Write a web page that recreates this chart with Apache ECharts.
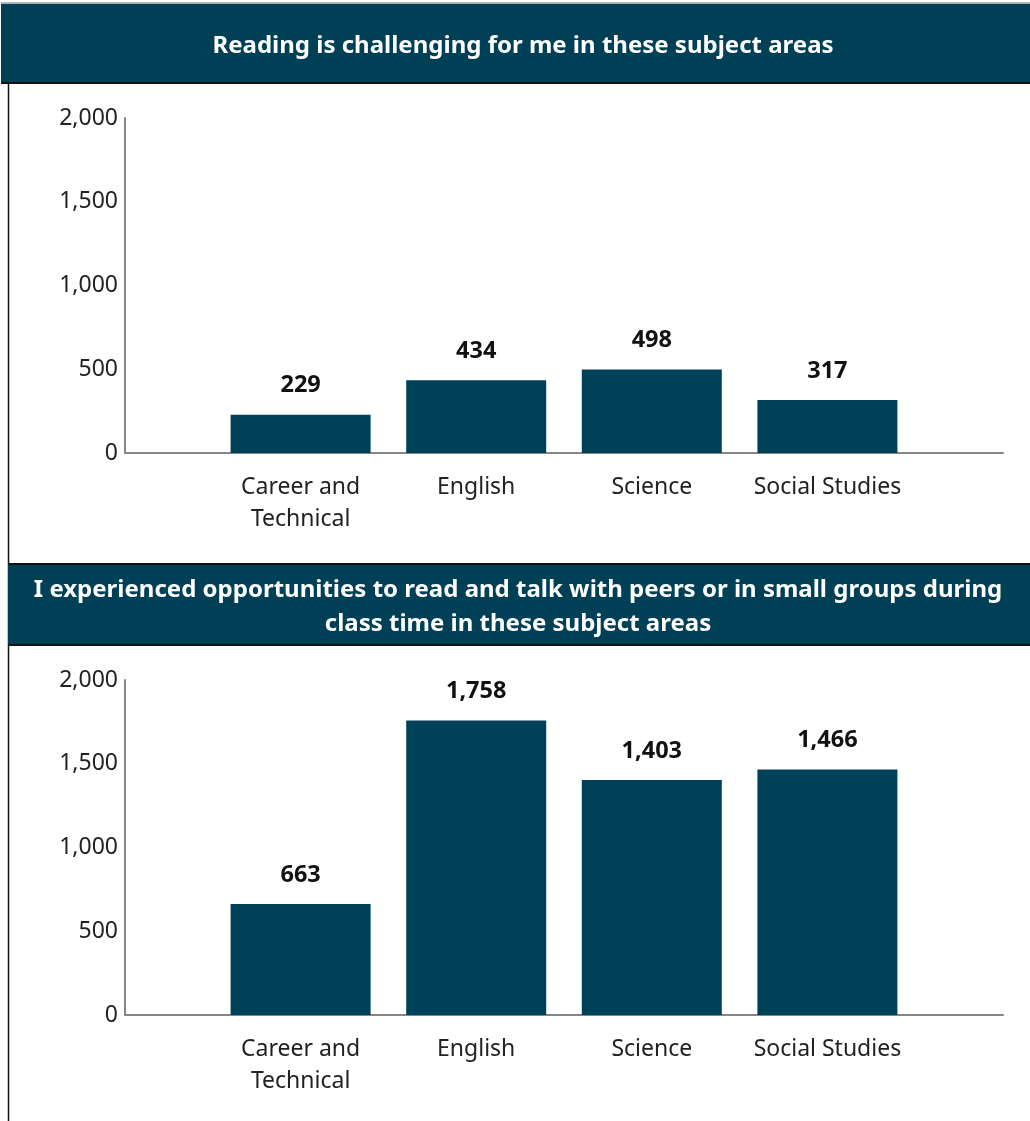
<!DOCTYPE html>
<html>
<head>
<meta charset="utf-8">
<script src="https://cdn.jsdelivr.net/npm/echarts@6/dist/echarts.min.js"></script>
<style>
  html, body { margin: 0; padding: 0; background: #ffffff; }
  #chart { width: 1030px; height: 1121px; }
</style>
</head>
<body>
<div id="chart"></div>
<script>
// Subject areas (blank slots at both ends keep the bars off the axis edges)
const categories = ['', 'Career and\nTechnical', 'English', 'Science', 'Social Studies', ''];
const challengingCounts = [null, 229, 434, 498, 317, null];
const opportunityCounts = [null, 663, 1758, 1403, 1466, null];
const yTicks = [0, 500, 1000, 1500, 2000];

const titleTop = 'Reading is challenging for me in these subject areas';
const titleBottom = 'I experienced opportunities to read and talk with peers or in small groups during\nclass time in these subject areas';

const FONT = 'Noto Sans';
const HEADER = '#004057';
const BAR = '#00415a';
const AXIS = '#868686';

const fmt = v => Number(v).toLocaleString('en-US');

function xAxisFor(gridIndex) {
  return {
    type: 'category', gridIndex, data: categories, boundaryGap: false,
    axisLine: { lineStyle: { color: AXIS, width: 2 } },
    axisTick: { show: false },
    axisLabel: { color: '#222', fontFamily: FONT, fontSize: 23, lineHeight: 32, margin: 18, interval: 0 }
  };
}
function yAxisFor(gridIndex) {
  return {
    type: 'value', gridIndex, min: yTicks[0], max: yTicks[yTicks.length - 1], interval: 500,
    axisLine: { show: true, lineStyle: { color: AXIS, width: 2 } },
    axisTick: { show: false },
    splitLine: { show: false },
    axisLabel: { color: '#222', fontFamily: FONT, fontSize: 23, margin: 7, formatter: fmt }
  };
}
function barSeries(data, idx) {
  return {
    type: 'bar', xAxisIndex: idx, yAxisIndex: idx, data, barWidth: 140,
    itemStyle: { color: BAR },
    label: {
      show: true, position: 'top', distance: 17, color: '#111',
      fontFamily: FONT, fontSize: 23.5, fontWeight: 'bold',
      formatter: p => fmt(p.value)
    }
  };
}

const chart = echarts.init(document.getElementById('chart'), null, { renderer: 'canvas' });
chart.setOption({
  animation: false,
  backgroundColor: '#ffffff',
  graphic: [
    // outer frame lines
    { type: 'line', shape: { x1: 1, y1: 3, x2: 1030, y2: 3 }, style: { stroke: '#999', lineWidth: 1.5 } },
    { type: 'line', shape: { x1: 8.5, y1: 83, x2: 8.5, y2: 1121 }, style: { stroke: '#111', lineWidth: 1.5 } },
    // header bands
    { type: 'rect', shape: { x: 1, y: 4, width: 1029, height: 78 }, style: { fill: HEADER } },
    { type: 'rect', shape: { x: 1, y: 82, width: 1029, height: 2 }, style: { fill: '#111' } },
    { type: 'rect', shape: { x: 8, y: 563, width: 1022, height: 2 }, style: { fill: '#111' } },
    { type: 'rect', shape: { x: 8, y: 565, width: 1022, height: 79 }, style: { fill: HEADER } },
    { type: 'rect', shape: { x: 8, y: 644, width: 1022, height: 2 }, style: { fill: '#111' } }
  ],
  title: [
    { text: titleTop, left: 518, top: 24, textAlign: 'center',
      textStyle: { color: '#fff', fontFamily: FONT, fontSize: 24, fontWeight: 'bold', lineHeight: 34 } },
    { text: titleBottom, left: 513, top: 568, textAlign: 'center',
      textStyle: { color: '#fff', fontFamily: FONT, fontSize: 24, fontWeight: 'bold', lineHeight: 34, align: 'center' } }
  ],
  grid: [
    { left: 125, top: 118, width: 878, height: 335 },
    { left: 125, top: 680, width: 878, height: 335 }
  ],
  xAxis: [xAxisFor(0), xAxisFor(1)],
  yAxis: [yAxisFor(0), yAxisFor(1)],
  series: [barSeries(challengingCounts, 0), barSeries(opportunityCounts, 1)]
});
</script>
</body>
</html>
